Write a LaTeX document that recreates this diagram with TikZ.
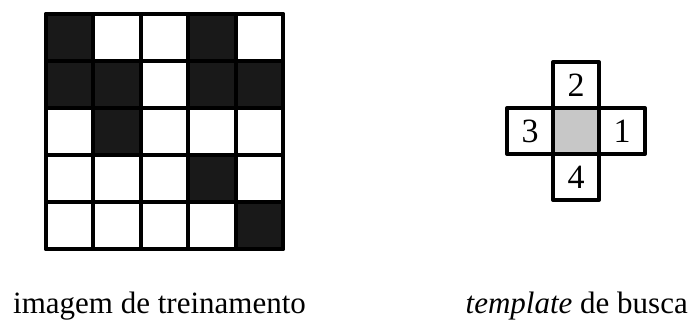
\documentclass[tikz,border=0pt]{standalone}
\usepackage{fontspec}
\setmainfont{Liberation Serif}
\begin{document}
\begin{tikzpicture}[x=1pt,y=-1pt,
  cellbox/.style={draw=black,line width=4pt,line join=round,minimum width=47.4pt,minimum height=47pt,inner sep=0pt,outer sep=0pt,anchor=north west},
  darkcell/.style={cellbox,fill=black!90},
  lightcell/.style={cellbox,fill=white},
  tplcell/.style={draw=black,line width=4pt,line join=round,minimum size=46pt,inner sep=0pt,outer sep=0pt,font=\fontsize{34}{34}\selectfont},
  caption/.style={font=\fontsize{31}{31}\selectfont,inner sep=0pt}]
\useasboundingbox (0,0) rectangle (693,320);
% training image: 5x5 binary grid (1 = dark)
\foreach \row/\vals in {0/{1,0,0,1,0},1/{1,1,0,1,1},2/{0,1,0,0,0},3/{0,0,0,1,0},4/{0,0,0,0,1}}{
  \foreach \v [count=\c from 0] in \vals {
    \ifnum\v=1
      \node[darkcell] (g\row\c) at (46+\c*47.4, 14+\row*47) {};
    \else
      \node[lightcell] (g\row\c) at (46+\c*47.4, 14+\row*47) {};
    \fi
  }
}
\draw[line width=4pt,line join=round] (g00.north west) rectangle (g44.south east);
% search template: cross of four neighbours around the gray centre
\node[tplcell,fill=black!22] (c) at (576,131) {};
\node[tplcell,fill=white] (n2) at (576,85) {2};
\node[tplcell,fill=white] (n4) at (576,177) {4};
\node[tplcell,fill=white] (n3) at (530,131) {3};
\node[tplcell,fill=white] (n1) at (622,131) {1};
\draw[line width=4pt] (c.north west) rectangle (c.south east);
% captions
\node[caption,anchor=base west] (capA) at (13,313) {imagem de treinamento};
\node[caption,anchor=base east] (capB) at (688,313) {\textit{template} de busca};
\end{tikzpicture}
\end{document}
